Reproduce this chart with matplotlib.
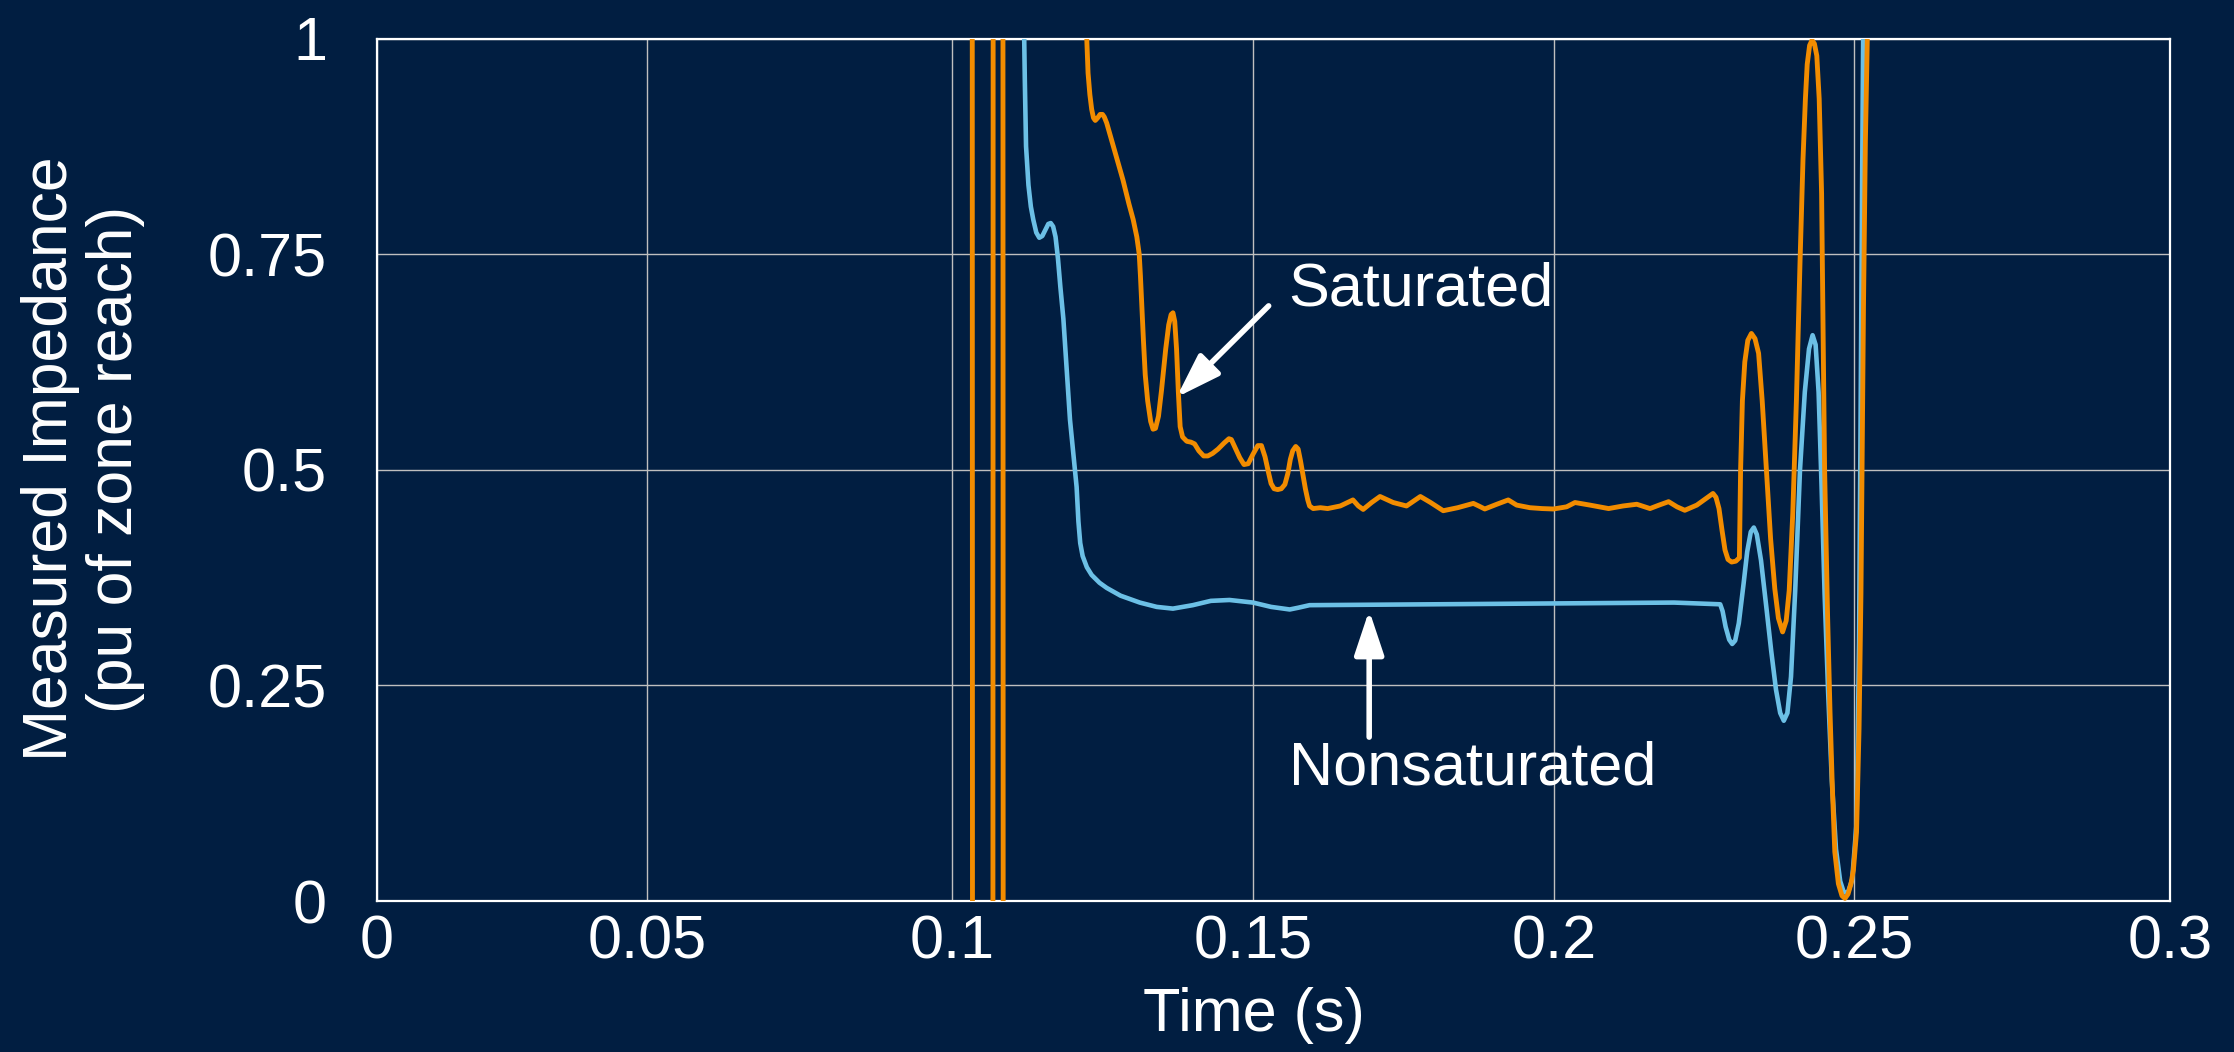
import numpy as np
import matplotlib
matplotlib.use('Agg')
import matplotlib.pyplot as plt

# Saturated CT (orange): three off-scale swings, then the measured curve
sat_spike_t = [0.1033, 0.1035, 0.1067, 0.1069, 0.1084, 0.1086]
sat_spike_v = [3.0, -3.0, -3.0, 3.0, 3.0, -3.0]

sat_t = [0.1223, 0.1224, 0.1226, 0.1229, 0.1232, 0.1235, 0.1238, 0.1242, 0.1246,
         0.1250, 0.1253, 0.1257, 0.1270, 0.1284, 0.1294, 0.1301, 0.1307, 0.1311,
         0.1313, 0.1315, 0.1318, 0.1321, 0.1325, 0.1330, 0.1334, 0.1338, 0.1343,
         0.1348, 0.1355, 0.1360, 0.1364, 0.1367, 0.1370, 0.1373, 0.1376, 0.1379,
         0.1383, 0.1390, 0.1397, 0.1403, 0.1410, 0.1418, 0.1425, 0.1433, 0.1442,
         0.1452, 0.1460, 0.1464, 0.1470, 0.1478, 0.1485, 0.1492, 0.1500, 0.1508,
         0.1514, 0.1520, 0.1526, 0.1530, 0.1535, 0.1541, 0.1547, 0.1553, 0.1558,
         0.1562, 0.1566, 0.1571, 0.1575, 0.1579, 0.1583, 0.1587, 0.1591, 0.1594,
         0.1600, 0.1612, 0.1624, 0.1645, 0.1666, 0.1675, 0.1683, 0.1697, 0.1711,
         0.1733, 0.1755, 0.1778, 0.1795, 0.1816, 0.1840, 0.1866, 0.1875, 0.1885,
         0.1905, 0.1924, 0.1938, 0.1960, 0.1980, 0.1999, 0.2021, 0.2035, 0.2060,
         0.2091, 0.2115, 0.2138, 0.2160, 0.2175, 0.2191, 0.2205, 0.2218, 0.2238,
         0.2252, 0.2265, 0.2270, 0.2275, 0.2280, 0.2285, 0.2290, 0.2296, 0.2303,
         0.2309, 0.2311, 0.2314, 0.2318, 0.2323, 0.2329, 0.2335, 0.2341, 0.2347,
         0.2354, 0.2361, 0.2368, 0.2374, 0.2381, 0.2387, 0.2392, 0.2398, 0.2404,
         0.2410, 0.2415, 0.2419, 0.2422, 0.2426, 0.2430, 0.2434, 0.2438, 0.2442,
         0.2446, 0.2451, 0.2456, 0.2460, 0.2464, 0.2468, 0.2474, 0.2480, 0.2485,
         0.2490, 0.2495, 0.2499, 0.2504, 0.2508, 0.2511, 0.2515, 0.2518, 0.2521,
         0.2523]
sat_v = [1.05, 0.997, 0.960, 0.935, 0.918, 0.908, 0.905, 0.908, 0.912,
         0.912, 0.909, 0.902, 0.870, 0.836, 0.808, 0.790, 0.770, 0.750,
         0.725, 0.695, 0.650, 0.610, 0.580, 0.556, 0.547, 0.548, 0.562,
         0.592, 0.640, 0.668, 0.680, 0.682, 0.672, 0.640, 0.590, 0.550,
         0.538, 0.533, 0.532, 0.530, 0.522, 0.516, 0.516, 0.519, 0.524,
         0.531, 0.536, 0.535, 0.526, 0.514, 0.506, 0.507, 0.518, 0.528,
         0.528, 0.515, 0.496, 0.484, 0.478, 0.477, 0.478, 0.483, 0.496,
         0.512, 0.522, 0.527, 0.524, 0.510, 0.494, 0.478, 0.465, 0.458,
         0.455, 0.456, 0.455, 0.458, 0.465, 0.458, 0.454, 0.462, 0.469,
         0.462, 0.458, 0.469, 0.462, 0.4525, 0.456, 0.461, 0.458, 0.4545,
         0.460, 0.465, 0.459, 0.456, 0.455, 0.4545, 0.457, 0.462, 0.459,
         0.455, 0.458, 0.460, 0.455, 0.459, 0.463, 0.457, 0.453, 0.459,
         0.466, 0.4725, 0.468, 0.455, 0.430, 0.407, 0.396, 0.393, 0.394,
         0.398, 0.500, 0.580, 0.625, 0.650, 0.658, 0.652, 0.635, 0.580,
         0.500, 0.420, 0.362, 0.328, 0.312, 0.325, 0.360, 0.450, 0.580,
         0.740, 0.860, 0.930, 0.970, 0.992, 0.998, 0.994, 0.980, 0.930,
         0.820, 0.500, 0.330, 0.220, 0.130, 0.057, 0.020, 0.006, 0.003,
         0.008, 0.020, 0.036, 0.080, 0.200, 0.356, 0.689, 0.880, 0.998,
         1.10]

# Nonsaturated CT (light blue)
nsat_t = [0.1119, 0.1120, 0.1121, 0.1123, 0.1127, 0.1131, 0.1135, 0.1140, 0.1145,
          0.1150, 0.1155, 0.1160, 0.1164, 0.1168, 0.1172, 0.1176, 0.1180, 0.1185,
          0.1196, 0.1207, 0.1210, 0.1213, 0.1217, 0.1224, 0.1232, 0.1245, 0.1257,
          0.1280, 0.1312, 0.1340, 0.1367, 0.1400, 0.1430, 0.1461, 0.1500, 0.1530,
          0.1561, 0.1575, 0.1594, 0.1800, 0.2000, 0.2200, 0.2277, 0.2281, 0.2286,
          0.2292, 0.2297, 0.2302, 0.2308, 0.2316, 0.2322, 0.2328, 0.2333, 0.2338,
          0.2345, 0.2354, 0.2362, 0.2370, 0.2377, 0.2383, 0.2389, 0.2395, 0.2402,
          0.2410, 0.2418, 0.2425, 0.2431, 0.2436, 0.2441, 0.2446, 0.2451, 0.2457,
          0.2463, 0.2470, 0.2477, 0.2483, 0.2490, 0.2497, 0.2504, 0.2508, 0.2511,
          0.2513, 0.2515]
nsat_v = [1.05, 0.997, 0.950, 0.875, 0.830, 0.805, 0.790, 0.775, 0.769,
          0.771, 0.778, 0.785, 0.786, 0.782, 0.770, 0.745, 0.712, 0.675,
          0.558, 0.480, 0.440, 0.415, 0.400, 0.387, 0.378, 0.369, 0.363,
          0.354, 0.346, 0.341, 0.339, 0.343, 0.348, 0.349, 0.346, 0.341,
          0.338, 0.340, 0.343, 0.344, 0.345, 0.346, 0.344, 0.336, 0.318,
          0.303, 0.298, 0.302, 0.322, 0.368, 0.405, 0.428, 0.433, 0.425,
          0.395, 0.340, 0.290, 0.245, 0.218, 0.209, 0.218, 0.260, 0.360,
          0.500, 0.590, 0.640, 0.656, 0.645, 0.590, 0.480, 0.356, 0.240,
          0.140, 0.060, 0.023, 0.010, 0.010, 0.025, 0.090, 0.300, 0.620,
          0.850, 1.05]

x_ticks = [0, 0.05, 0.1, 0.15, 0.2, 0.25, 0.3]
x_tick_labels = ['0', '0.05', '0.1', '0.15', '0.2', '0.25', '0.3']
y_ticks = [0, 0.25, 0.5, 0.75, 1]
y_tick_labels = ['0', '0.25', '0.5', '0.75', '1']

# the original's time grid is not evenly spaced; reproduce it with a
# piecewise-linear axis scale (tick value -> relative position)
x_scale_pos = [0, 270, 575, 876, 1177, 1477, 1793]

BG = '#011E41'
ORANGE = '#F28C00'
BLUE = '#6CC0E6'
GRID = '#BFBFBF'
FS = 44


def x_forward(t):
    return np.interp(t, x_ticks, x_scale_pos)


def x_inverse(p):
    return np.interp(p, x_scale_pos, x_ticks)


plt.rcParams['font.family'] = ['Liberation Sans', 'DejaVu Sans']

fig = plt.figure(figsize=(22.34, 10.52), dpi=100, facecolor=BG)
ax = fig.add_axes([377 / 2234, 1 - 901 / 1052, 1793 / 2234, 862.5 / 1052])
ax.set_facecolor(BG)
ax.set_xscale('function', functions=(x_forward, x_inverse))

ax.plot(nsat_t, nsat_v, color=BLUE, lw=3.3, solid_joinstyle='round', zorder=3)
ax.plot(sat_spike_t, sat_spike_v, color=ORANGE, lw=3.5, zorder=4)
ax.plot(sat_t, sat_v, color=ORANGE, lw=3.5, solid_joinstyle='round', zorder=4)

ax.set_xlim(0, 0.3)
ax.set_ylim(0, 1)
ax.set_xticks(x_ticks)
ax.set_xticklabels(x_tick_labels)
ax.set_xticks([], minor=True)
ax.set_yticks(y_ticks)
ax.set_yticklabels(y_tick_labels)
ax.tick_params(axis='both', length=0, labelsize=FS, labelcolor='white')
ax.tick_params(axis='x', pad=10)
ax.tick_params(axis='y', pad=36)
ax.grid(True, color=GRID, lw=1.0, zorder=1)
ax.set_axisbelow(True)
for sp in ax.spines.values():
    sp.set_color('white')
    sp.set_linewidth(1.6)

# Annotations with arrows
arrow = dict(arrowstyle='-|>,head_length=1.35,head_width=0.45', color='white',
             lw=4.0, mutation_scale=20, shrinkA=0, shrinkB=0)
ax.annotate('', xy=(0.1373, 0.584), xytext=(0.1526, 0.690), arrowprops=arrow, zorder=5)
ax.text(0.1558, 0.691, 'Saturated', color='white', fontsize=FS, va='baseline', ha='left')
ax.annotate('', xy=(0.1693, 0.337), xytext=(0.1693, 0.190), arrowprops=arrow, zorder=5)
ax.text(0.1559, 0.1345, 'Nonsaturated', color='white', fontsize=FS, va='baseline', ha='left')

fig.text(1254 / 2234, 1 - 1016 / 1052, 'Time (s)', color='white', fontsize=FS,
         ha='center', va='center')
fig.text(83 / 2234, 1 - 459 / 1052, 'Measured Impedance\n(pu of zone reach)', color='white',
         fontsize=45, ha='center', va='center', rotation=90, multialignment='center',
         linespacing=1.15)

fig.savefig('out.png', dpi=100, facecolor=BG)
